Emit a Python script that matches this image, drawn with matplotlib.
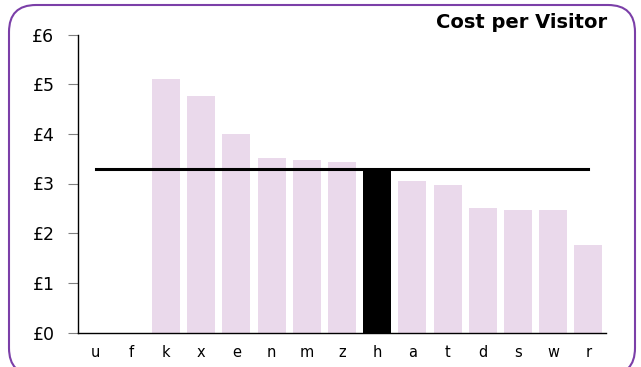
import matplotlib.pyplot as plt
from matplotlib.patches import FancyBboxPatch

# data
categories = ['u', 'f', 'k', 'x', 'e', 'n', 'm', 'z', 'h', 'a', 't', 'd', 's', 'w', 'r']
cost = [0, 0, 5.10, 4.77, 4.00, 3.51, 3.47, 3.43, 3.30, 3.05, 2.97, 2.50, 2.47, 2.46, 1.76]
average = 3.30
highlight = 'h'
y_ticks = [0, 1, 2, 3, 4, 5, 6]
y_labels = ['£0', '£1', '£2', '£3', '£4', '£5', '£6']

fig = plt.figure(figsize=(6.41, 3.67), dpi=100)

# background axes in pixel units, for the rounded purple frame
bg = fig.add_axes([0, 0, 1, 1], zorder=-1)
bg.set_xlim(0, 641)
bg.set_ylim(367, 0)
bg.axis('off')
frame = FancyBboxPatch((9, 5), 626, 370, boxstyle='round,pad=0,rounding_size=27',
                       facecolor='white', edgecolor='#7B3FA8', linewidth=1.5)
bg.add_patch(frame)

ax = fig.add_axes([78 / 641, 34.5 / 367, 528 / 641, 298 / 367])
ax.patch.set_alpha(0)

colors = ['black' if c == highlight else '#EAD9EB' for c in categories]
ax.bar(range(len(categories)), cost, width=0.8, color=colors, edgecolor='none', zorder=2)

# average line across the categories
ax.plot([0, len(categories) - 1], [average, average], color='black', linewidth=2.2, zorder=3)

ax.set_xlim(-0.5, len(categories) - 0.5)
ax.set_ylim(0, 6)
ax.set_yticks(y_ticks)
ax.set_yticklabels(y_labels, fontsize=12.5)
ax.set_xticks(range(len(categories)))
ax.set_xticklabels(categories, fontsize=10.5)
ax.tick_params(axis='y', direction='out', length=7, color='#808080', pad=10)
ax.tick_params(axis='x', length=0, pad=9)

for side in ['top', 'right']:
    ax.spines[side].set_visible(False)
ax.spines['left'].set_linewidth(1)
ax.spines['bottom'].set_linewidth(1)

fig.text(607 / 641, 1 - 23 / 367, 'Cost per Visitor', ha='right', va='center',
         fontsize=14, fontweight='bold')

fig.savefig('out.png', dpi=100)
